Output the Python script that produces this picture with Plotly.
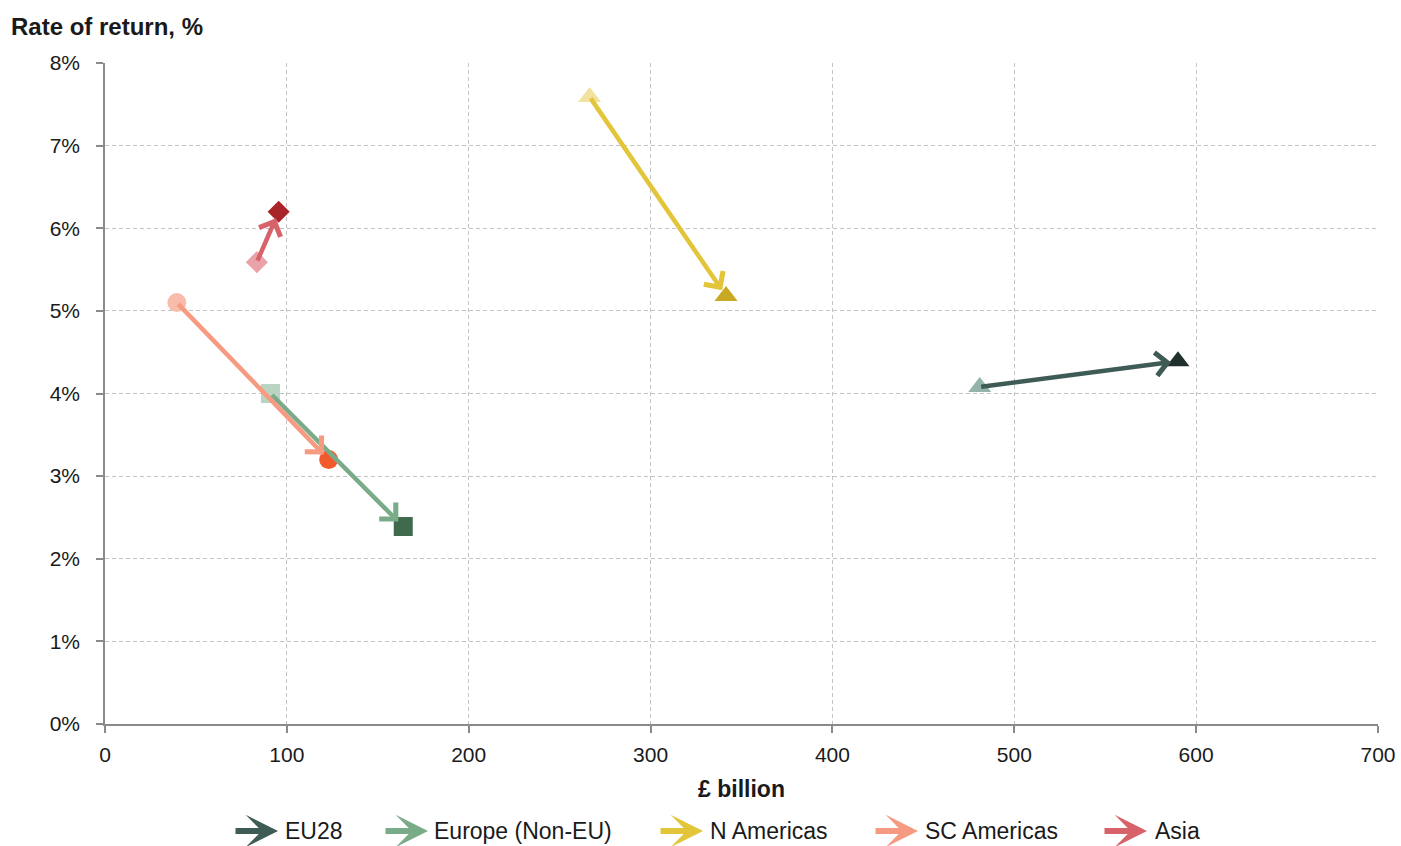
import plotly.graph_objects as go

# ---- data ----
regions = ["EU28", "Europe (Non-EU)", "N Americas", "SC Americas", "Asia"]
start_x = [481, 91, 266.5, 39.5, 83.5]
start_y = [4.08, 4.0, 7.59, 5.1, 5.59]
end_x = [590, 164, 341.5, 123, 95.5]
end_y = [4.39, 2.39, 5.18, 3.2, 6.2]
x_ticks = [0, 100, 200, 300, 400, 500, 600, 700]
y_ticks = [0, 1, 2, 3, 4, 5, 6, 7, 8]

# ---- styles ----
line_colors = ["#3f5b56", "#7aab88", "#e3c53a", "#f69a82", "#d8626a"]
start_colors = ["#93b3ab", "#b9d5c1", "#f1e2a2", "#f9bcaa", "#e9a3a8"]
end_colors = ["#1f302d", "#3f6a4c", "#c9a823", "#f25a2e", "#a8252a"]
symbols = ["triangle-up", "square", "triangle-up", "circle", "diamond"]
sizes = [20, 19, 20, 19, 17]

L, T, W, H = 105, 63, 1273, 661

fig = go.Figure()

for i in range(5):
    fig.add_trace(go.Scatter(
        x=[start_x[i], end_x[i]],
        y=[start_y[i], end_y[i]],
        mode="markers",
        name=regions[i],
        showlegend=False,
        marker=dict(symbol=symbols[i], size=sizes[i],
                    color=[start_colors[i], end_colors[i]],
                    line=dict(width=0)),
        hoverinfo="skip",
    ))

annotations = []
for i in range(5):
    annotations.append(dict(
        x=end_x[i], y=end_y[i], ax=start_x[i], ay=start_y[i],
        xref="x", yref="y", axref="x", ayref="y",
        showarrow=True, arrowhead=4, arrowsize=1.0, arrowwidth=4.5,
        arrowcolor=line_colors[i], standoff=7, text="",
    ))

# manual legend (arrow + label)
leg_y = 1 - (831 - T) / H
leg_arrow_start = [232, 382, 657, 872, 1101]
leg_text_x = [283, 432, 708, 923, 1153]
for i in range(5):
    x1 = (leg_arrow_start[i] + 46 - L) / W
    annotations.append(dict(
        x=x1, y=leg_y, xref="paper", yref="paper",
        ax=-44, ay=0, showarrow=True, arrowhead=3, arrowsize=0.9,
        arrowwidth=6, arrowcolor=line_colors[i], text="", standoff=0,
    ))
    annotations.append(dict(
        x=(leg_text_x[i] - L) / W, y=leg_y, xref="paper", yref="paper",
        text=regions[i], showarrow=False, xanchor="left", yanchor="middle",
        font=dict(size=23, color="#1a1a1a"),
    ))

annotations.append(dict(
    x=(9 - L) / W, y=1 + (T - 27) / H, xref="paper", yref="paper",
    text="<b>Rate of return, %</b>",
    showarrow=False, xanchor="left", yanchor="middle",
    font=dict(size=24, color="#1a1a1a"),
))

fig.update_layout(
    width=1401, height=846,
    margin=dict(l=L, r=1401 - L - W, t=T, b=846 - T - H, autoexpand=False),
    paper_bgcolor="white", plot_bgcolor="white",
    font=dict(family="Liberation Sans, Arial, sans-serif", size=21, color="#1a1a1a"),
    annotations=annotations,
    showlegend=False,
)
fig.update_xaxes(
    range=[0, 700], tickvals=x_ticks, ticktext=[str(v) for v in x_ticks],
    showgrid=True, gridcolor="#c4c4c4", griddash="4px,3px", gridwidth=1,
    showline=True, linecolor="#8a8a8a", linewidth=1.5,
    ticks="outside", ticklen=7, tickcolor="#8a8a8a", tickwidth=1.5,
    ticklabelstandoff=4, automargin=False,
    zeroline=False,
    title=dict(text="<b>£ billion</b>", font=dict(size=23), standoff=16),
)
fig.update_yaxes(
    range=[0, 8], tickvals=y_ticks, ticktext=[f"{v}%" for v in y_ticks],
    showgrid=True, gridcolor="#c4c4c4", griddash="4px,3px", gridwidth=1,
    showline=True, linecolor="#8a8a8a", linewidth=1.5,
    ticks="outside", ticklen=7, tickcolor="#8a8a8a", tickwidth=1.5,
    ticklabelstandoff=12, automargin=False,
    zeroline=False,
)

fig.write_html("out.html", config={"displayModeBar": False},
               post_script="document.body.style.margin='0px';document.body.style.overflow='hidden';")
